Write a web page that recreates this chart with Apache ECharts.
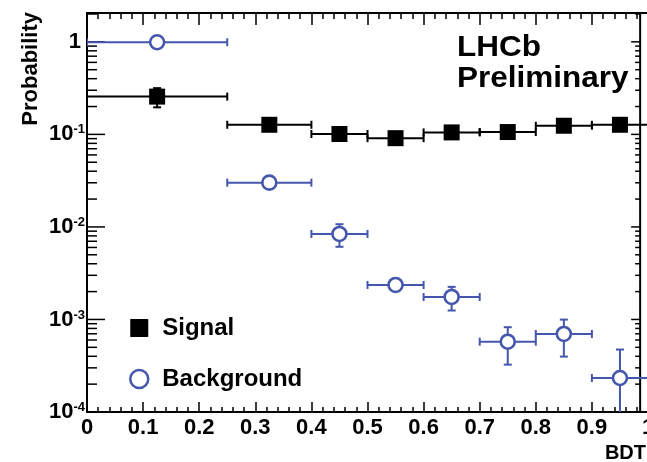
<!DOCTYPE html>
<html>
<head>
<meta charset="utf-8">
<script src="https://cdn.jsdelivr.net/npm/echarts@6/dist/echarts.min.js"></script>
<style>
html,body{margin:0;padding:0;background:#fff;}
#chart{width:647px;height:462px;}
</style>
</head>
<body>
<div id="chart"></div>
<script>
// BDT bins
var binLow  = [0, 0.25, 0.4, 0.5, 0.6, 0.7, 0.8, 0.9];
var binHigh = [0.25, 0.4, 0.5, 0.6, 0.7, 0.8, 0.9, 1.0];
var binMid  = [0.125, 0.325, 0.45, 0.55, 0.65, 0.75, 0.85, 0.95];
// probabilities
var signal        = [0.256, 0.127, 0.101, 0.091, 0.105, 0.106, 0.124, 0.127];
var signalErr     = [0.06, 0.008, 0.006, 0.005, 0.006, 0.006, 0.007, 0.008];
var background    = [0.99, 0.0301, 0.0084, 0.00236, 0.00175, 0.000575, 0.000697, 0.000233];
var backgroundErr = [0.01, 0.002, 0.0023, 0.0003, 0.0005, 0.00025, 0.0003, 0.00024];
var yDecades = [1e-4, 1e-3, 1e-2, 1e-1, 1];

var FONT = 'Liberation Sans';
var BLUE = '#4457ad';
var yMin = 1e-4, yMax = 2.05;
var frameRight = 0.986; // right frame of the pad sits just before x=1

// y ticks 1..9 x 10^k (log axis, drawn by hand)
var yTicks = [];
yDecades.forEach(function (d) {
  for (var m = 1; m <= 9; m++) {
    var v = m * d;
    if (v <= yMax) yTicks.push([0, v, m === 1 ? 1 : 0]);
  }
});

function line(x1, y1, x2, y2, color, w) {
  return {type: 'line', shape: {x1: x1, y1: y1, x2: x2, y2: y2},
    style: {stroke: color, lineWidth: w}};
}

function errorItem(kind) {
  var color = kind === 'sig' ? '#000' : BLUE;
  return function (params, api) {
    var v = api.value(3), e = api.value(4);
    var pl = api.coord([api.value(0), v]);
    var pr = api.coord([api.value(1), v]);
    var pc = api.coord([api.value(2), v]);
    var pt = api.coord([api.value(2), v + e]);
    var pb = api.coord([api.value(2), v - e > 0 ? v - e : 1e-6]);
    var kids = [
      line(pl[0], pl[1], pr[0], pr[1], color, 2),
      line(pl[0], pl[1] - 4, pl[0], pl[1] + 4, color, 2),
      line(pr[0], pr[1] - 4, pr[0], pr[1] + 4, color, 2),
      line(pt[0], pt[1], pb[0], pb[1], color, 2),
      line(pt[0] - 4, pt[1], pt[0] + 4, pt[1], color, 2),
      line(pb[0] - 4, pb[1], pb[0] + 4, pb[1], color, 2)
    ];
    if (kind === 'sig') {
      kids.push({type: 'rect', shape: {x: pc[0] - 8, y: pc[1] - 8, width: 16, height: 16},
        style: {fill: '#000'}});
    } else {
      kids.push({type: 'circle', shape: {cx: pc[0], cy: pc[1], r: 7},
        style: {fill: '#fff', stroke: BLUE, lineWidth: 2.6}});
    }
    return {type: 'group', children: kids};
  };
}

function tickItem(params, api) {
  var v = api.value(1), major = api.value(2) === 1;
  var pl = api.coord([0, v]);
  var pr = api.coord([frameRight, v]);
  var kids = [
    line(pl[0], pl[1], pl[0] + (major ? 18 : 10), pl[1], '#000', 1.5),
    line(pr[0], pr[1], pr[0] - (major ? 9 : 5), pr[1], '#000', 1.5)
  ];
  if (params.dataIndex === 0) {
    var top = api.coord([frameRight, yMax]);
    kids.push(line(pr[0], top[1], pr[0], pr[1], '#000', 2));
  }
  return {type: 'group', children: kids};
}

var chart = echarts.init(document.getElementById('chart'));

var xAxisBase = {
  type: 'value', min: 0, max: 1, interval: 0.1,
  axisLine: {lineStyle: {color: '#000', width: 2}},
  splitLine: {show: false}
};

chart.setOption({
  animation: false,
  backgroundColor: '#fff',
  grid: {left: 87, top: 13, width: 561, height: 399, outerBoundsMode: 'none', containLabel: false},
  legend: {
    orient: 'vertical', left: 124, top: 311, itemWidth: 18, itemHeight: 18, itemGap: 27,
    selectedMode: false,
    textStyle: {fontFamily: FONT, fontWeight: 'bold', fontSize: 24,
      color: '#000', padding: [0, 0, 0, 9]},
    data: [
      {name: 'Signal', icon: 'rect', itemStyle: {color: '#000'}},
      {name: 'Background', icon: 'circle',
        itemStyle: {color: '#fff', borderColor: BLUE, borderWidth: 2.5}}
    ]
  },
  xAxis: [
    Object.assign({}, xAxisBase, {
      position: 'bottom',
      axisTick: {inside: true, length: 10, lineStyle: {color: '#000', width: 1.5}},
      minorTick: {show: true, splitNumber: 5, length: 5, lineStyle: {color: '#000', width: 1.5}},
      axisLabel: {fontFamily: FONT, fontWeight: 'bold', fontSize: 22, color: '#000', margin: 5,
        formatter: function (v) { return v === 0 ? '0' : (v === 1 ? '1' : v.toFixed(1)); }}
    }),
    Object.assign({}, xAxisBase, {
      position: 'top',
      axisTick: {inside: true, length: 12, lineStyle: {color: '#000', width: 1.5}},
      minorTick: {show: true, splitNumber: 5, length: 6, lineStyle: {color: '#000', width: 1.5}},
      axisLabel: {show: false}
    })
  ],
  yAxis: {
    type: 'log', logBase: 10, min: yMin, max: yMax,
    axisLine: {lineStyle: {color: '#000', width: 2}},
    axisTick: {show: false},
    splitLine: {show: false},
    axisLabel: {
      margin: 2, color: '#000', fontFamily: FONT, fontWeight: 'bold', fontSize: 22,
      formatter: function (v) {
        var e = Math.round(Math.log10(v));
        if (Math.abs(v / Math.pow(10, e) - 1) > 1e-6) return '';
        if (e === 0) return '{one|1}';
        return '{base|10}{sup|' + e + '}';
      },
      rich: {
        base: {fontFamily: FONT, fontWeight: 'bold', fontSize: 22, lineHeight: 22, color: '#000'},
        sup: {fontFamily: FONT, fontWeight: 'bold', fontSize: 13, lineHeight: 13,
          verticalAlign: 'top', color: '#000'},
        one: {fontFamily: FONT, fontWeight: 'bold', fontSize: 22, color: '#000', padding: [0, 4, 0, 0]}
      }
    }
  },
  graphic: [
    {type: 'text', x: 31, y: 12, rotation: Math.PI / 2,
      style: {text: 'Probability', fill: '#000', font: 'bold 22px "' + FONT + '"',
        align: 'right', verticalAlign: 'middle'}},
    {type: 'text', x: 646, y: 453,
      style: {text: 'BDT', fill: '#000', font: 'bold 20px "' + FONT + '"',
        align: 'right', verticalAlign: 'middle'}},
    {type: 'text', x: 457, y: 47.5, scaleX: 1.05,
      style: {text: 'LHCb', fill: '#000', font: 'bold 30px "' + FONT + '"',
        align: 'left', verticalAlign: 'middle'}},
    {type: 'text', x: 457, y: 79, scaleX: 1.05,
      style: {text: 'Preliminary', fill: '#000', font: 'bold 30px "' + FONT + '"',
        align: 'left', verticalAlign: 'middle'}}
  ],
  series: [
    {
      type: 'custom', name: 'ticks', clip: false, silent: true,
      renderItem: tickItem, data: yTicks, z: 1
    },
    {
      type: 'custom', name: 'Signal', clip: true,
      itemStyle: {color: '#000'},
      encode: {x: [0, 1, 2], y: 3},
      renderItem: errorItem('sig'),
      data: binMid.map(function (c, i) { return [binLow[i], binHigh[i], c, signal[i], signalErr[i]]; }),
      z: 3
    },
    {
      type: 'custom', name: 'Background', clip: true,
      itemStyle: {color: BLUE},
      encode: {x: [0, 1, 2], y: 3},
      renderItem: errorItem('bkg'),
      data: binMid.map(function (c, i) { return [binLow[i], binHigh[i], c, background[i], backgroundErr[i]]; }),
      z: 4
    }
  ]
});
</script>
</body>
</html>
